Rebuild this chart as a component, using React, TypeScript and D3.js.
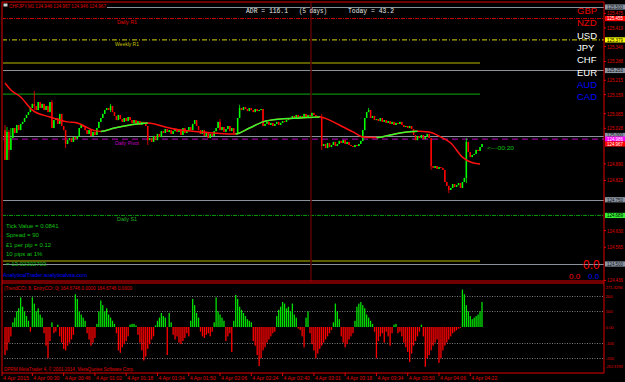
import React from "react";
import * as d3 from "d3";

const TITLE = "CHFJPY,M1  124.946 124.967 124.946 124.967";
const OPEN_FIRST = 125.021;
const CLOSES = [
  124.905, 125.014, 124.944, 124.990,
  125.029, 125.010, 125.041, 125.021, 125.045,
  125.053, 125.068, 125.080, 125.091, 125.107, 125.123,
  125.115, 125.099, 125.130, 125.107, 125.123, 125.099,
  125.115, 125.091, 125.130, 125.029, 125.060,
  125.068, 125.045, 125.084, 125.037, 125.021, 124.967,
  124.982, 124.990, 124.975, 124.994, 124.986, 124.998,
  125.029, 125.041, 125.033, 125.021,
  125.006, 125.021, 124.998, 125.014, 125.002,
  125.029, 125.053, 125.068, 125.084, 125.099, 125.107,
  125.099, 125.115, 125.091, 125.076, 125.060,
  125.080, 125.064, 125.053, 125.068, 125.056, 125.072, 125.060,
  125.049, 125.060, 125.045, 125.056, 125.041, 125.053, 125.045,
  125.037, 124.982, 124.990,
  124.975, 124.998, 124.982, 125.006, 124.994, 125.017,
  125.010, 125.025, 125.014, 125.021, 125.006, 125.017, 125.025, 125.014,
  125.021, 125.002, 125.029, 125.010, 125.017, 125.033, 125.021,
  125.045, 125.060, 125.037, 125.021,
  125.006, 125.021, 124.998, 125.014, 124.990, 125.006, 124.998, 125.017,
  125.029, 125.053, 125.021, 125.033, 125.014,
  125.025, 125.037, 125.017, 125.029, 125.010, 125.006,
  125.068, 125.107,
  125.099, 125.111, 125.103, 125.095, 125.107, 125.099, 125.091, 125.103, 125.095, 125.099, 125.103,
  125.037,
  125.045, 125.053, 125.041, 125.049, 125.037, 125.045, 125.053, 125.041,
  125.049, 125.056, 125.053, 125.060, 125.068, 125.064, 125.076, 125.068, 125.080, 125.072,
  125.076, 125.068, 125.084, 125.072, 125.080, 125.076, 125.088, 125.080, 125.072, 125.076, 125.072,
  124.959,
  124.967, 124.951, 124.971, 124.955, 124.963, 124.975, 124.959, 124.967,
  124.979, 124.971, 124.982, 124.967, 124.975, 124.963, 124.959,
  124.955, 124.963, 124.959, 124.967, 124.979,
  125.021, 125.068, 125.091, 125.099,
  125.068, 125.076, 125.060, 125.064, 125.056, 125.068, 125.053, 125.060, 125.049,
  125.056, 125.045, 125.053, 125.041, 125.049, 125.045, 125.053, 125.041, 125.033, 125.037,
  125.029, 125.037, 125.025, 125.002, 124.982, 124.998, 124.990,
  125.002, 124.986, 124.994, 125.006, 124.990,
  124.881,
  124.874, 124.881, 124.870, 124.877, 124.874, 124.866,
  124.819, 124.804, 124.788, 124.796, 124.811, 124.800,
  124.807, 124.815, 124.796, 124.819, 124.835,
  124.975,
  124.936, 124.916, 124.924,
  124.928, 124.944, 124.940,
  124.955, 124.967,
];
const WICK_BARS = [0, 1, 2, 3, 15, 24, 31, 54, 73, 110, 120, 162, 186, 218, 227, 236];
const WICK_HIGHS = [125.041, 125.033, 125.021, 125.029, 125.173, 125.138, 125.021, 125.123, 125.037, 125.064, 125.119, 125.084, 125.107, 124.990, 124.800, 124.990];
const WICK_LOWS = [124.913, 124.920, 124.905, 124.944, 125.099, 125.029, 124.951, 125.091, 124.963, 125.021, 125.068, 124.944, 125.091, 124.866, 124.776, 124.815];

const CCI = [
  -180, -150, -100, -60,
  30, 60, 100, 120, 190,
  130, 100, 70, 40,
  -30,
  190, 150, 100, 120, 80, 60,
  -40, -120, -200, -90,
  30,
  -40, -30, 15,
  -60, -100, -140, -150, -120, -100, -80, -50,
  210, 180, 100, 80, 60, 40,
  -40, -80, -120, -100, -70,
  20, 100, 170, 140, 100, 120, 80, 60, 40, 20,
  -40, -150, -165, -130, -110, -90, -60,
  15, 20, 20, 10,
  -50, -100, -150, -215, -190, -140, -110, -80, -60,
  10, 40, 60, 90, 70, 60, -180, 90, 30,
  -50, -80, -60, -100, -110, -90, -70, -40, -60,
  40, 180, 140, 90, 60,
  -30, -60, -70, -50, -40, -60, -30,
  30, 190, 100, 80, 60, 40, -90,
  -60, -40, -160,
  40, 205, 180, 130, 110, 90, 70, 50, 40, 30,
  -90, -120, -180, -250, -200, -150, -130, -100, -80, -60, -40, -30,
  70, 110, 130, 160, 150, 120, 130, 100, 150, 80, 60,
  -10, -20, -60,
  -130, 60, 100,
  -40, -110, -150, -200, -170, -140, -120, -100, -80, -60, -40, -20,
  30, 150, 100, 50,
  -60, -100, -130, -110, -80, -60, -40,
  40, 130, 150, 160, 140, 120, 80, 60, 40, 20,
  -30, -200, -90, -60, -40, -100, -30, -60, -120, -40,
  15, 20,
  -40, -30, -60, -100, -130, -160, -225, -170, -120, -90, -60, -30,
  15,
  -60, -255, -200, -180, -150, -120, -100, -80, -230, -200, -150, -120, -100, -80, -60, -40, -30, -20, -10, -5,
  240, 210, 140, 100, 70, 50, 60, 70, 80, 100, 160,
];

// moving average at these bars
const MA_BARS = [0, 3, 8, 14, 23, 32, 37, 45, 49, 56, 64, 73, 82, 90, 100, 110, 118, 125, 132, 141, 151, 161, 166, 173, 178, 183, 190, 197, 202, 211, 217, 223, 228, 234, 238, 243];
const MA_VALUES = [125.204, 125.177, 125.150, 125.099, 125.072, 125.053, 125.049, 125.021, 125.016, 125.029, 125.041, 125.049, 125.033, 125.021, 125.014, 125.008, 125.006, 125.029, 125.053, 125.064, 125.068, 125.072, 125.060, 125.033, 125.014, 124.994, 124.992, 125.002, 125.010, 125.017, 125.014, 124.994, 124.971, 124.916, 124.897, 124.889];

const PRICE_TICK_LABELS = ["125.475", "125.419", "125.346", "125.288", "125.215", "125.159", "125.085", "125.028", "124.955", "124.890", "124.825", "124.760", "124.700", "124.630", "124.565", "124.500", "124.436"];

const GRAY_LEVELS = [125.5, 125.253, 125.0, 124.75, 124.5];
const GRAY_LEVEL_LABELS = ["125.500", "125.253", "125.000", "124.750", "124.500"];
const OLIVE_LEVELS = [125.282, 124.512];
const GREEN_LEVEL = 125.161;
const DAILY_R1 = 125.455;
const WEEKLY_R1 = 125.372;
const DAILY_PIVOT = 124.986;
const DAILY_S1 = 124.689;
const BID = 124.967;

const TIME_LABELS = ["4 Apr 2015", "4 Apr 00:30", "4 Apr 00:46", "4 Apr 01:02", "4 Apr 01:18", "4 Apr 01:34", "4 Apr 01:50", "4 Apr 02:06", "4 Apr 02:24", "4 Apr 02:40", "4 Apr 03:01", "4 Apr 03:18", "4 Apr 03:34", "4 Apr 03:50", "4 Apr 04:06", "4 Apr 04:22"];

const CCI_GRID = [200, 100, -100, -200];
const CCI_AXIS_VALUES = [271.3296, 200, 100, 0, -100, -200, -252.3799];
const CCI_AXIS_LABELS = ["271.3296", "200", "100", "0.00", "-100", "-200", "-252.3799"];

const CURRENCIES = ["GBP", "NZD", "USD", "JPY", "CHF", "EUR", "AUD", "CAD"];
const CURRENCY_COLORS = ["#ee0000", "#ee0000", "#ffffff", "#ffffff", "#ffffff", "#ffffff", "#0000ff", "#0000ff"];

const INFO_LINES = ["Tick Value = 0.0841", "Spread = 90", "£1 per pip = 0.12", "10 pips at 1%", "= 13.02302703"];

const SANS = "'Liberation Sans', Arial, sans-serif";
const MONO = "'Liberation Mono', 'DejaVu Sans Mono', monospace";

export default function App() {
  const N = CLOSES.length;
  const x = d3.scaleLinear().domain([0, N - 1]).range([5, 482]);
  const y = d3.scaleLinear().domain([124.5, 125.5]).range([264, 7]);
  const yc = d3.scaleLinear().domain([-100, 100]).range([342.6, 311.4]);

  const opens = CLOSES.map((c, i) => (i === 0 ? OPEN_FIRST : CLOSES[i - 1]));
  const highs = CLOSES.map((c, i) => Math.max(c, opens[i]));
  const lows = CLOSES.map((c, i) => Math.min(c, opens[i]));
  WICK_BARS.forEach((b, k) => {
    highs[b] = Math.max(highs[b], WICK_HIGHS[k]);
    lows[b] = Math.min(lows[b], WICK_LOWS[k]);
  });

  const maPts: [number, number][] = MA_BARS.map((b, k) => [x(b), y(MA_VALUES[k])]);
  const maPath = d3.line().curve(d3.curveMonotoneX)(maPts) || "";
  const greenRanges: [number, number][] = [];
  for (let k = 1; k < MA_BARS.length; k++) {
    if (MA_VALUES[k] > MA_VALUES[k - 1]) greenRanges.push([x(MA_BARS[k - 1]), x(MA_BARS[k])]);
  }

  const boxPrices = [...GRAY_LEVELS, DAILY_R1, WEEKLY_R1, DAILY_PIVOT, BID, DAILY_S1];
  const priceTickVals = PRICE_TICK_LABELS.map(Number).filter((p) => boxPrices.every((b) => Math.abs(y(b) - y(p)) > 4.5));
  const priceTickText = priceTickVals.map((p) => PRICE_TICK_LABELS.find((s) => Number(s) === p) || "");

  const L = 2, R = 604, TOP = 2, MAINB = 281, SUBT = 283, SUBB = 373;

  const box = (p: number, label: string, bg: string, fg: string, key: string) => (
    <g key={key}>
      <rect x={605} y={y(p) - 2.6} width={20} height={5.2} fill={bg} />
      <text x={607} y={y(p) + 1.8} fontSize={4.8} fontFamily={SANS} fill={fg} textLength={16} lengthAdjust="spacingAndGlyphs">{label}</text>
    </g>
  );

  return (
    <svg width={625} height={382} style={{ position: "absolute", left: 0, top: 0, background: "#000" }}>
      <rect x={0} y={0} width={625} height={382} fill="#000" />
      <defs>
        <clipPath id="mainclip"><rect x={L + 1} y={TOP + 1} width={R - L - 1} height={MAINB - TOP - 1} /></clipPath>
        <clipPath id="subclip"><rect x={L + 1} y={SUBT + 1} width={R - L - 1} height={SUBB - SUBT - 1} /></clipPath>
        <clipPath id="magreen">
          {greenRanges.map((r, i) => <rect key={i} x={r[0]} y={0} width={r[1] - r[0]} height={300} />)}
        </clipPath>
      </defs>

      {/* main panel */}
      <g clipPath="url(#mainclip)">
        {GRAY_LEVELS.map((p, i) => (
          <line key={"g" + i} x1={L} x2={R} y1={Math.round(y(p)) + 0.5} y2={Math.round(y(p)) + 0.5} stroke="#8a929c" strokeWidth={1} />
        ))}
        {OLIVE_LEVELS.map((p, i) => (
          <line key={"o" + i} x1={L} x2={480} y1={y(p)} y2={y(p)} stroke="#7c7c00" strokeWidth={1.5} />
        ))}
        <line x1={L} x2={480} y1={y(GREEN_LEVEL)} y2={y(GREEN_LEVEL)} stroke="#0a8a0a" strokeWidth={1.3} />
        <line x1={L} x2={R} y1={y(DAILY_R1)} y2={y(DAILY_R1)} stroke="#d00000" strokeWidth={1} strokeDasharray="4,1,1,1" />
        <line x1={L} x2={R} y1={y(WEEKLY_R1)} y2={y(WEEKLY_R1)} stroke="#d8d800" strokeWidth={1} strokeDasharray="5,2,1,2" />
        <line x1={L} x2={R} y1={y(DAILY_PIVOT)} y2={y(DAILY_PIVOT)} stroke="#c000c0" strokeWidth={1} strokeDasharray="6,4" />
        <line x1={L} x2={R} y1={y(DAILY_S1)} y2={y(DAILY_S1)} stroke="#0a9a0a" strokeWidth={1} strokeDasharray="4,1,1,1" />
        <line x1={311} x2={311} y1={TOP} y2={SUBT} stroke="#5a0000" strokeWidth={1.5} />

        <text x={117} y={y(DAILY_R1) + 5.5} fontSize={5.5} fontFamily={SANS} fill="#e00000" textLength={20} lengthAdjust="spacingAndGlyphs">Daily R1</text>
        <text x={115} y={y(WEEKLY_R1) + 6} fontSize={5.5} fontFamily={SANS} fill="#c8c800" textLength={24} lengthAdjust="spacingAndGlyphs">Weekly R1</text>
        <text x={115} y={y(DAILY_PIVOT) + 5.5} fontSize={5.5} fontFamily={SANS} fill="#c000c0" textLength={24} lengthAdjust="spacingAndGlyphs">Daily Pivot</text>
        <text x={117} y={y(DAILY_S1) + 5.5} fontSize={5.5} fontFamily={SANS} fill="#20b020" textLength={20} lengthAdjust="spacingAndGlyphs">Daily S1</text>

        {CLOSES.map((c, i) => {
          const up = c >= opens[i];
          const col = up ? "#00ff00" : "#ff0000";
          const xi = x(i);
          const yt = y(Math.max(c, opens[i]));
          const yb = y(Math.min(c, opens[i]));
          return (
            <g key={"c" + i}>
              <line x1={xi} x2={xi} y1={y(highs[i])} y2={y(lows[i])} stroke={col} strokeWidth={0.8} />
              <rect x={xi - 0.75} y={yt} width={1.5} height={Math.max(1, yb - yt)} fill={col} />
            </g>
          );
        })}

        <path d={maPath} fill="none" stroke="#ff1010" strokeWidth={1.5} />
        <path d={maPath} fill="none" stroke="#30ff30" strokeWidth={1.5} clipPath="url(#magreen)" />

        <text x={487} y={150} fontSize={6} fontFamily={SANS} fill="#10c010" textLength={27} lengthAdjust="spacingAndGlyphs">{"<---00:20"}</text>

        {INFO_LINES.map((t, i) => (
          <text key={"info" + i} x={6} y={227.5 + i * 9.5} fontSize={6} fontFamily={SANS} fill="#10c010">{t}</text>
        ))}
        <text x={3} y={277} fontSize={6} fontFamily={SANS} fill="#0000ff" textLength={84} lengthAdjust="spacingAndGlyphs">AnalyticalTrader.analyticalvsa.com</text>

        {CURRENCIES.map((c, i) => (
          <text key={c} x={577} y={14 + i * 12.3} fontSize={9.5} fontFamily={SANS} fill={CURRENCY_COLORS[i]}>{c}</text>
        ))}

        <text x={246} y={12.5} fontSize={6.5} fontFamily={MONO} fill="#e8e8e8" textLength={42} lengthAdjust="spacingAndGlyphs">ADR = 116.1</text>
        <text x={299} y={12.5} fontSize={6.5} fontFamily={MONO} fill="#e8e8e8" textLength={28} lengthAdjust="spacingAndGlyphs">(5 days)</text>
        <text x={348} y={12.5} fontSize={6.5} fontFamily={MONO} fill="#e8e8e8" textLength={46} lengthAdjust="spacingAndGlyphs">Today = 43.2</text>

        <rect x={3} y={3} width={104} height={6} fill="#000" />
        <rect x={3.5} y={3.5} width={4} height={3} fill="#d0d0d0" />
        <text x={9} y={8} fontSize={5.5} fontFamily={SANS} fill="#e00000" textLength={97} lengthAdjust="spacingAndGlyphs">{TITLE}</text>
      </g>

      <text x={583} y={268.5} fontSize={12} fontFamily={SANS} fill="#ff0000">0.0</text>
      <text x={569} y={278.5} fontSize={8} fontFamily={SANS} fill="#ff0000">0.0</text>
      <text x={588} y={278.5} fontSize={8} fontFamily={SANS} fill="#0000ff">0.0</text>

      {/* sub panel */}
      <g clipPath="url(#subclip)">
        {CCI_GRID.map((v) => (
          <line key={"cg" + v} x1={L} x2={R} y1={Math.round(yc(v)) + 0.5} y2={Math.round(yc(v)) + 0.5} stroke="#9a9a9a" strokeWidth={0.8} strokeDasharray="1,1.5" />
        ))}
        {CCI.map((v, i) => {
          const y0 = yc(0);
          const y1 = yc(v);
          return <rect key={"h" + i} x={x(i) - 0.65} y={Math.min(y0, y1)} width={1.3} height={Math.abs(y1 - y0)} fill={v >= 0 ? "#00e000" : "#ff0000"} />;
        })}
        <text x={4} y={290} fontSize={5.5} fontFamily={SANS} fill="#e00000" textLength={128} lengthAdjust="spacingAndGlyphs">(TrendCCI: 8, EntryCCI: 0)  164.6746 0.0000 164.6746 0.0000</text>
        <text x={4} y={371} fontSize={5.5} fontFamily={SANS} fill="#e00000" textLength={130} lengthAdjust="spacingAndGlyphs">DPRM MetaTrader 4, © 2001-2014, MetaQuotes Software Corp.</text>
      </g>

      {/* frames */}
      <line x1={L} x2={L} y1={TOP} y2={SUBB} stroke="#e00000" strokeWidth={1} />
      <line x1={R} x2={R} y1={TOP} y2={SUBB} stroke="#e00000" strokeWidth={1} />
      <line x1={L} x2={R} y1={TOP} y2={TOP} stroke="#e00000" strokeWidth={1} />
      <line x1={L} x2={R} y1={MAINB} y2={MAINB} stroke="#e00000" strokeWidth={1} />
      <line x1={L} x2={R} y1={SUBT} y2={SUBT} stroke="#e00000" strokeWidth={1.2} />
      <line x1={L} x2={R} y1={SUBB} y2={SUBB} stroke="#e00000" strokeWidth={1} />

      {/* price axis */}
      {priceTickVals.map((p, i) => (
        <g key={"pt" + i}>
          <line x1={R} x2={R + 2} y1={y(p)} y2={y(p)} stroke="#e00000" />
          <text x={607} y={y(p) + 2} fontSize={5} fontFamily={SANS} fill="#e00000" textLength={16} lengthAdjust="spacingAndGlyphs">{priceTickText[i]}</text>
        </g>
      ))}
      {GRAY_LEVELS.map((p, i) => box(p, GRAY_LEVEL_LABELS[i], "#8c96a4", "#101010", "gb" + i))}
      {box(DAILY_R1, "125.455", "#ff0000", "#ffffff", "r1")}
      {box(WEEKLY_R1, "125.379", "#ffff00", "#000000", "w1")}
      {box(DAILY_PIVOT, "124.986", "#ff00ff", "#ffffff", "pv")}
      {box(BID, "124.967", "#ff0000", "#ffffff", "bid")}
      {box(DAILY_S1, "124.689", "#33ee33", "#000000", "s1")}

      {/* cci axis */}
      {CCI_AXIS_VALUES.map((v, i) => (
        <text key={"ca" + i} x={605.5} y={Math.min(Math.max(yc(v) + 2, 289), 370)} fontSize={4.2} fontFamily={SANS} fill="#e00000"
          textLength={CCI_AXIS_LABELS[i].length > 4 ? 17 : undefined} lengthAdjust="spacingAndGlyphs">{CCI_AXIS_LABELS[i]}</text>
      ))}

      {/* time axis */}
      {TIME_LABELS.map((t, k) => {
        const xx = k === 0 ? 2 : x(14 + 16 * (k - 1));
        return (
          <g key={"t" + k}>
            <line x1={xx} x2={xx} y1={SUBB} y2={SUBB + 3} stroke="#e00000" />
            <text x={xx + 1} y={380} fontSize={5.2} fontFamily={SANS} fill="#e00000" textLength={26} lengthAdjust="spacingAndGlyphs">{t}</text>
          </g>
        );
      })}
    </svg>
  );
}
